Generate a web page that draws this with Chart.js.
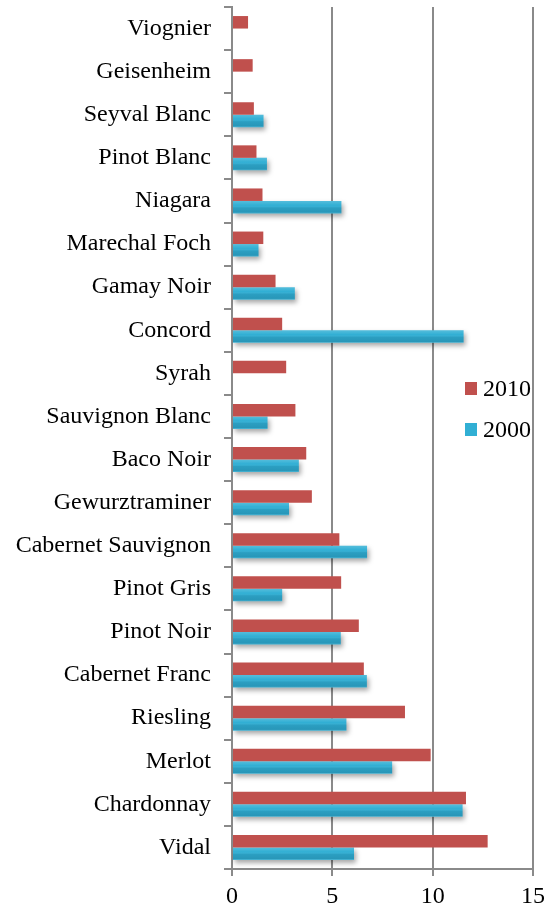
<!DOCTYPE html>
<html lang="en">
<head>
  <meta charset="UTF-8">
  <title>Grape varieties 2000 / 2010</title>
  <script src="https://cdn.jsdelivr.net/npm/chart.js"></script>
  <style>
    body {
      margin: 0;
      background: #ffffff;
    }
    .container {
      width: 544px;
      height: 911px;
      position: relative;
    }
  </style>
</head>
<body>
  <div class="container">
    <canvas id="grapeChart"></canvas>
  </div>

  <script>
    const varieties = ['Viognier', 'Geisenheim', 'Seyval Blanc', 'Pinot Blanc', 'Niagara', 'Marechal Foch',
      'Gamay Noir', 'Concord', 'Syrah', 'Sauvignon Blanc', 'Baco Noir', 'Gewurztraminer',
      'Cabernet Sauvignon', 'Pinot Gris', 'Pinot Noir', 'Cabernet Franc', 'Riesling', 'Merlot',
      'Chardonnay', 'Vidal'];
    const values2010 = [0.8, 1.03, 1.09, 1.22, 1.52, 1.56, 2.17, 2.5, 2.7, 3.16, 3.7, 3.98,
      5.35, 5.44, 6.32, 6.57, 8.62, 9.9, 11.66, 12.74];
    const values2000 = [null, null, 1.57, 1.74, 5.45, 1.32, 3.13, 11.54, null, 1.77, 3.33, 2.84,
      6.73, 2.5, 5.42, 6.72, 5.7, 7.98, 11.49, 6.08];
    const xTicks = [0, 5, 10, 15];

    const RED = '#c0504d';
    const BLUE = '#31afd4';
    const AXIS_GREY = '#8a8a8a';
    const FONT = "'Liberation Serif', 'Times New Roman', serif";

    // drop shadow + shading on the 2000 bars
    const barShading = {
      id: 'barShading',
      beforeDatasetDraw(chart, args) {
        if (args.index !== 1) return;
        const ctx = chart.ctx;
        ctx.save();
        ctx.shadowColor = 'rgba(0,0,0,0.35)';
        ctx.shadowBlur = 5;
        ctx.shadowOffsetX = 2;
        ctx.shadowOffsetY = 3;
      },
      afterDatasetDraw(chart, args) {
        if (args.index !== 1) return;
        const ctx = chart.ctx;
        ctx.restore();
        ctx.save();
        args.meta.data.forEach(bar => {
          if (bar.skip) return;
          const top = bar.y - bar.height / 2;
          const g = ctx.createLinearGradient(0, top, 0, top + bar.height);
          g.addColorStop(0, 'rgba(255,255,255,0.18)');
          g.addColorStop(0.35, 'rgba(255,255,255,0.0)');
          g.addColorStop(0.55, 'rgba(0,40,60,0.12)');
          g.addColorStop(0.9, 'rgba(0,40,60,0.18)');
          g.addColorStop(1, 'rgba(255,255,255,0.15)');
          ctx.fillStyle = g;
          ctx.fillRect(bar.base, top, bar.x - bar.base, bar.height);
        });
        ctx.restore();
      }
    };

    // legend drawn inside the plot, right side
    const innerLegend = {
      id: 'innerLegend',
      afterDraw(chart) {
        const ctx = chart.ctx;
        ctx.save();
        ctx.font = '24px ' + FONT;
        ctx.textBaseline = 'alphabetic';
        ctx.textAlign = 'left';
        chart.data.datasets.forEach((ds, i) => {
          const y = 382 + i * 41;
          ctx.fillStyle = ds.backgroundColor;
          ctx.fillRect(465, y, 12, 13);
          ctx.fillStyle = '#000000';
          ctx.fillText(ds.label, 483, y + 14);
        });
        ctx.restore();
      }
    };

    new Chart(document.getElementById('grapeChart'), {
      type: 'bar',
      data: {
        labels: varieties,
        datasets: [
          {
            label: '2010',
            data: values2010,
            backgroundColor: RED,
            categoryPercentage: 0.58,
            barPercentage: 1.0
          },
          {
            label: '2000',
            data: values2000,
            backgroundColor: BLUE,
            categoryPercentage: 0.58,
            barPercentage: 1.0
          }
        ]
      },
      options: {
        indexAxis: 'y',
        responsive: true,
        maintainAspectRatio: false,
        animation: false,
        layout: { padding: { top: 7, right: 11, bottom: 0, left: 0 } },
        plugins: {
          legend: { display: false },
          tooltip: { enabled: false }
        },
        scales: {
          x: {
            min: 0,
            max: 15,
            afterBuildTicks(scale) {
              scale.ticks = xTicks.map(v => ({ value: v }));
            },
            afterFit(scale) {
              scale.height = 42;
              scale.paddingLeft = 0;
              scale.paddingRight = 0;
            },
            grid: {
              color: AXIS_GREY,
              lineWidth: 2,
              tickLength: 7
            },
            border: { color: AXIS_GREY, width: 2 },
            ticks: {
              color: '#000000',
              padding: 6,
              font: { family: FONT, size: 24 }
            }
          },
          y: {
            afterFit(scale) {
              scale.width = 232;
              scale.paddingTop = 0;
              scale.paddingBottom = 0;
            },
            grid: {
              drawOnChartArea: false,
              color: AXIS_GREY,
              lineWidth: 2,
              tickLength: 8,
              offset: true
            },
            border: { color: AXIS_GREY, width: 2 },
            ticks: {
              color: '#000000',
              padding: 13,
              font: { family: FONT, size: 24 }
            }
          }
        }
      },
      plugins: [barShading, innerLegend]
    });
  </script>
</body>
</html>
